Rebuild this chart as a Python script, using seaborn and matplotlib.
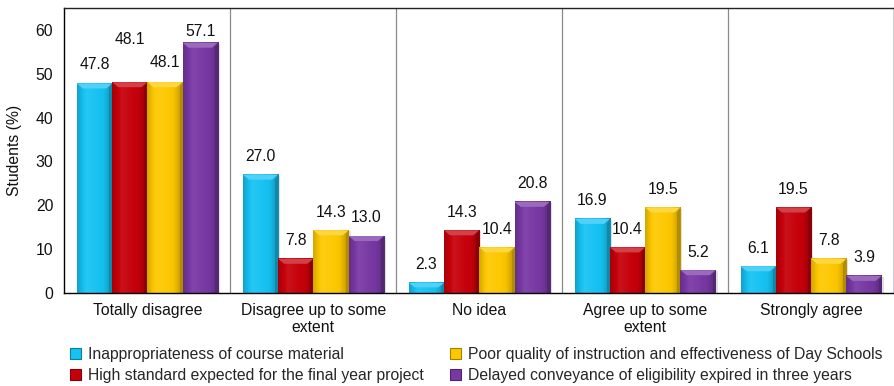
import numpy as np
import pandas as pd
import matplotlib
matplotlib.use("Agg")
import matplotlib.pyplot as plt
import matplotlib.colors as mcolors
from matplotlib.patches import Polygon, Patch
import seaborn as sns

# Response categories (x axis)
categories = ["Totally disagree", "Disagree up to some\nextent", "No idea",
              "Agree up to some\nextent", "Strongly agree"]

# Reasons (series)
series = [
    "Inappropriateness of course material",
    "High standard expected for the final year project",
    "Poor quality of instruction and effectiveness of Day Schools",
    "Delayed conveyance of eligibility expired in three years",
]

# Percentage of students for each reason across the categories
course_material = [47.8, 27.0, 2.3, 16.9, 6.1]
final_project = [48.1, 7.8, 14.3, 10.4, 19.5]
day_schools = [48.1, 14.3, 10.4, 19.5, 7.8]
eligibility = [57.1, 13.0, 20.8, 5.2, 3.9]

colors = ["#16c2f2", "#c6000a", "#fdc800", "#7838a4"]

values = [course_material, final_project, day_schools, eligibility]
df = pd.DataFrame({
    "category": [c for _ in series for c in categories],
    "reason": [s for s in series for _ in categories],
    "pct": [v for vals in values for v in vals],
})

sns.set_theme(style="white")
plt.rcParams["font.family"] = ["Liberation Sans", "DejaVu Sans"]
FS = 11.3

fig = plt.figure(figsize=(8.95, 3.86), dpi=100)
ax = fig.add_axes([0.072, 0.241, 0.927, 0.738])

sns.barplot(data=df, x="category", y="pct", hue="reason", order=categories,
            hue_order=series, palette=colors, width=0.85, ax=ax,
            saturation=1, legend=False, edgecolor="none", linewidth=0)

YMAX = 65
ax.set_ylim(0, YMAX)
ax.set_xlim(-0.5, len(categories) - 0.5)

# per-pixel sizes in data units for the bevel effect
px_y = YMAX / (0.738 * 386)
px_x = len(categories) / (0.927 * 895)


def shade(c, f):
    rgb = np.array(mcolors.to_rgb(c))
    if f >= 1:
        return tuple(rgb + (1 - rgb) * (f - 1))
    return tuple(rgb * f)


profile = np.concatenate([np.linspace(0.84, 1.07, 12), np.linspace(1.07, 0.98, 20),
                          np.linspace(0.98, 0.74, 12)])

for container, col in zip(ax.containers, colors):
    for rect in container:
        x, w, h = rect.get_x(), rect.get_width(), rect.get_height()
        rect.set_zorder(2)
        # soft drop shadow
        ax.add_patch(plt.Rectangle((x + 2 * px_x, 0), w, h - 1 * px_y,
                                   color="#000000", alpha=0.12, zorder=1.5, lw=0))
        # horizontal shading across the bar face
        grad = np.array([[shade(col, f) for f in profile]])
        ax.imshow(grad, extent=(x, x + w, 0, h), aspect="auto", zorder=2.1,
                  interpolation="bilinear")
        # bevelled top cap and darker right edge
        dx, dy = 6 * px_x, min(5 * px_y, h * 0.45)
        ax.add_patch(Polygon([(x, h), (x + w, h), (x + w - dx, h - dy), (x + dx, h - dy)],
                             closed=True, color=shade(col, 1.25), lw=0, zorder=2.2))
        ax.add_patch(Polygon([(x + w, h), (x + w, 0), (x + w - dx * 0.5, 0),
                              (x + w - dx * 0.5, h - dy)],
                             closed=True, color=shade(col, 0.7), lw=0, zorder=2.2))

ax.set_ylim(0, YMAX)
ax.set_xlim(-0.5, len(categories) - 0.5)

# value labels above bars (offsets in points)
for si, container in enumerate(ax.containers):
    for ci, rect in enumerate(container):
        off = 13
        if ci == 0:
            off = [14, 31, 14, 8][si]
        ax.annotate(f"{values[si][ci]:.1f}",
                    (rect.get_x() + rect.get_width() / 2, rect.get_height()),
                    xytext=(0, off), textcoords="offset points",
                    ha="center", va="center", fontsize=FS, color="#111111", zorder=5)

# separators between categories
for b in np.arange(0.5, len(categories) - 0.5, 1):
    ax.axvline(b, color="#8a8a8a", lw=0.9, zorder=0.5)

for s in ax.spines.values():
    s.set_visible(True)
    s.set_color("black")
    s.set_linewidth(1.0)
ax.spines["top"].set_color("#222222")

ax.set_yticks(range(0, 61, 10))
ax.tick_params(axis="both", labelsize=FS, length=0, colors="#111111")
ax.tick_params(axis="y", pad=8)
ax.tick_params(axis="x", pad=7)
ax.set_xlabel("")
ax.set_ylabel("Students (%)", fontsize=FS, labelpad=10, color="#111111")
ax.set_xticks(range(len(categories)))
ax.set_xticklabels(categories, linespacing=1.2)

handles = [Patch(facecolor=c, edgecolor=shade(c, 0.65), linewidth=0.8) for c in colors]
fig.legend(handles, series, loc="lower left", bbox_to_anchor=(0.062, -0.03), ncol=2,
           frameon=False, fontsize=FS, handlelength=0.7, handleheight=0.7,
           handletextpad=0.45, columnspacing=1.7, labelspacing=0.42)

fig.savefig("out.png", dpi=100)
